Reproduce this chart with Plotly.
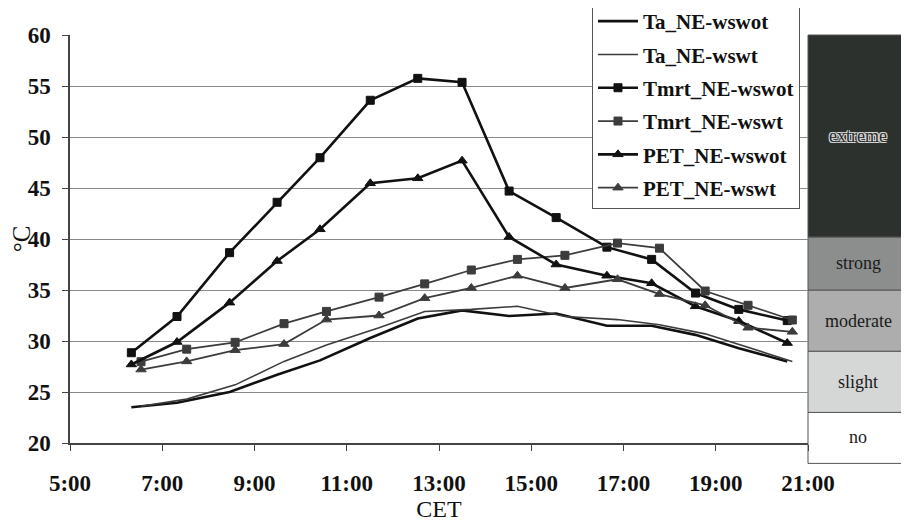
import plotly.graph_objects as go

# ---- data ----
t_wswot = [6.33, 7.32, 8.46, 9.49, 10.42, 11.51, 12.54, 13.50, 14.52, 15.54, 16.64, 17.61, 18.56, 19.50, 20.55]
t_wswt = [6.54, 7.53, 8.58, 9.64, 10.56, 11.70, 12.69, 13.70, 14.70, 15.73, 16.87, 17.78, 18.77, 19.70, 20.66]

ta_wswot = [23.5, 23.95, 25.0, 26.7, 28.1, 30.3, 32.2, 33.0, 32.45, 32.7, 31.5, 31.5, 30.6, 29.3, 28.0]
ta_wswt = [23.6, 24.3, 25.7, 28.0, 29.6, 31.3, 32.9, 33.1, 33.4, 32.4, 32.1, 31.6, 30.7, 29.4, 28.0]
tmrt_wswot = [28.85, 32.4, 38.66, 43.6, 47.97, 53.6, 55.75, 55.36, 44.7, 42.1, 39.2, 38.0, 34.7, 33.1, 32.0]
tmrt_wswt = [27.97, 29.2, 29.87, 31.7, 32.9, 34.3, 35.6, 36.96, 38.0, 38.4, 39.6, 39.1, 34.9, 33.5, 32.06]
pet_wswot = [27.7, 29.9, 33.76, 37.84, 40.95, 45.46, 45.95, 47.68, 40.2, 37.5, 36.4, 35.66, 33.4, 31.96, 29.8]
pet_wswt = [27.2, 28.0, 29.1, 29.7, 32.1, 32.5, 34.2, 35.2, 36.4, 35.2, 36.05, 34.6, 33.5, 31.3, 30.9]

x_tickvals = [5, 7, 9, 11, 13, 15, 17, 19, 21]
x_ticktext = ["5:00", "7:00", "9:00", "11:00", "13:00", "15:00", "17:00", "19:00", "21:00"]
y_tickvals = [20, 25, 30, 35, 40, 45, 50, 55, 60]
Y_MIN, Y_MAX = 20, 60

# heat-stress classes (PET) shown as a band to the right of the plot
band_labels = ["no", "slight", "moderate", "strong", "extreme"]
band_edges = [18, 23, 29, 35, 40.2, 60]
band_colors = ["#ffffff", "#d5d7d6", "#acadac", "#8c8e8d", "#2c312e"]

FONT = "Liberation Serif"
DARK = "#111111"
THIN = "#3c3c3c"

fig = go.Figure()

def add(name, x, y, color, width, symbol=None, msize=8, group=None):
    mode = "lines" if symbol is None else "lines+markers"
    kw = {}
    if symbol is not None:
        kw["marker"] = dict(symbol=symbol, size=msize, color=color,
                            line=dict(color=color, width=1))
    fig.add_trace(go.Scatter(x=x, y=y, name=name, mode=mode,
                             line=dict(color=color, width=width),
                             legendgroup=group, **kw))

add("Ta_NE-wswot", t_wswot, ta_wswot, DARK, 2.6, group="a")
add("Ta_NE-wswt", t_wswt, ta_wswt, THIN, 1.6, group="b")
add("Tmrt_NE-wswot", t_wswot, tmrt_wswot, DARK, 2.6, "square", 8, group="c")
add("Tmrt_NE-wswt", t_wswt, tmrt_wswt, THIN, 1.8, "square", 8, group="d")
add("PET_NE-wswot", t_wswot, pet_wswot, DARK, 2.6, "triangle-up", 9, group="e")
add("PET_NE-wswt", t_wswt, pet_wswt, THIN, 1.8, "triangle-up", 9, group="f")

def to_paper(v):
    return (v - Y_MIN) / (Y_MAX - Y_MIN)

shapes = []
annotations = []
for i, lab in enumerate(band_labels):
    y0, y1 = band_edges[i], band_edges[i + 1]
    shapes.append(dict(type="rect", xref="paper", yref="paper", x0=1.0, x1=1.1355,
                       y0=to_paper(y0), y1=to_paper(y1), fillcolor=band_colors[i],
                       line=dict(color="#555555", width=1), layer="below"))
    if lab == "extreme":
        f = dict(family=FONT, size=18, color="#2a2a2a",
                 shadow="1px 1px 0 #d8d8d8, -1px -1px 0 #d8d8d8, 1px -1px 0 #d8d8d8, -1px 1px 0 #d8d8d8")
    else:
        f = dict(family=FONT, size=18, color="#1a1a1a")
    yc = (y0 + y1) / 2 if lab != "no" else (y0 + y1) / 2 + 0.1
    annotations.append(dict(xref="paper", yref="paper", x=1.068, y=to_paper(yc),
                            xanchor="center", yanchor="middle",
                            text=lab, showarrow=False, font=f))

fig.update_layout(
    width=909, height=525,
    margin=dict(l=62, r=109, t=27, b=90, autoexpand=False),
    paper_bgcolor="white", plot_bgcolor="white",
    font=dict(family=FONT, color=DARK),
    shapes=shapes, annotations=annotations,
    legend=dict(x=0.7073, y=1.0858, xanchor="left", yanchor="top",
                bgcolor="white", bordercolor="#555555", borderwidth=1,
                font=dict(family=FONT, size=21, color=DARK, weight="bold"),
                tracegroupgap=3, itemwidth=40),
    xaxis=dict(range=[5, 21], tickvals=x_tickvals, ticktext=x_ticktext,
               showgrid=False, zeroline=False, automargin=False,
               showline=True, linecolor="#444444", linewidth=1.5,
               ticks="outside", ticklen=6, tickcolor="#444444",
               ticklabelstandoff=13,
               tickfont=dict(family=FONT, size=23, color=DARK, weight="bold"),
               title=dict(text="CET", font=dict(family=FONT, size=24, color=DARK), standoff=2)),
    yaxis=dict(range=[Y_MIN, Y_MAX], tickvals=y_tickvals,
               showgrid=True, gridcolor="#8a8a8a", gridwidth=1, zeroline=False,
               automargin=False,
               showline=True, linecolor="#444444", linewidth=1.5,
               ticks="outside", ticklen=6, tickcolor="#444444",
               ticklabelstandoff=7,
               tickfont=dict(family=FONT, size=23, color=DARK, weight="bold"),
               title=dict(text="°C", font=dict(family=FONT, size=25, color=DARK), standoff=9)),
)

fig.write_html("out.html")
